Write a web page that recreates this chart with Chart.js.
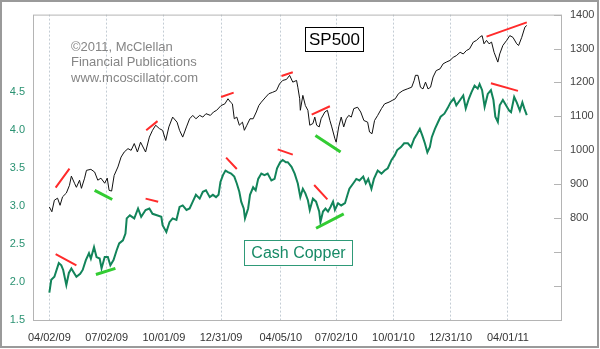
<!DOCTYPE html>
<html>
<head>
<meta charset="utf-8">
<script src="https://cdn.jsdelivr.net/npm/chart.js@4"></script>
<style>
  html, body { margin: 0; padding: 0; background: #fff; }
  #wrap { width: 600px; height: 349px; }
</style>
</head>
<body>
<div id="wrap"><canvas id="chart" width="600" height="349"></canvas></div>
<script>
// x values are calendar days counted from 04/02/09
const dateTickDays = [0, 91, 182, 273, 368, 456, 547, 638, 729];
const dateTickLabels = ['04/02/09', '07/02/09', '10/01/09', '12/31/09', '04/05/10', '07/02/10', '10/01/10', '12/31/10', '04/01/11'];

const copperTicks = [1.5, 2.0, 2.5, 3.0, 3.5, 4.0, 4.5];
const spxTicks = [500, 600, 700, 800, 900, 1000, 1100, 1200, 1300, 1400];
const spxTickLabels = ['', '', '', '800', '900', '1000', '1100', '1200', '1300', '1400'];

const spxDays = [0,4,8,13,17,21,27,32,35,40,43,48,51,56,59,66,72,77,82,88,92,95,99,103,109,114,119,125,130,135,140,145,153,159,164,169,175,180,185,190,196,203,207,212,218,223,228,233,239,244,249,256,261,266,273,279,284,288,291,294,298,302,307,310,314,319,324,329,333,337,344,349,355,361,366,371,377,382,387,393,395,398,399,403,407,411,414,419,422,425,429,432,438,442,446,449,454,456,460,464,468,472,476,480,484,490,495,500,506,509,513,517,522,528,533,540,545,550,555,562,569,576,580,582,586,590,594,598,602,606,610,615,621,626,631,637,642,647,653,658,663,668,674,679,684,688,691,695,699,703,707,713,716,721,727,732,737,743,746,751,756,759];
const spxValues = [833,819,853,859,838,863,874,897,924,903,891,912,888,918,941,944,936,912,918,903,918,882,880,926,951,980,995,1005,1000,1020,995,1024,995,1039,1059,1074,1064,1059,1029,1069,1098,1083,1059,1039,1069,1093,1103,1093,1103,1098,1108,1103,1113,1118,1132,1137,1152,1142,1137,1093,1098,1074,1083,1059,1074,1093,1093,1113,1132,1142,1157,1167,1171,1176,1196,1206,1209,1221,1201,1206,1186,1152,1118,1162,1132,1118,1074,1079,1098,1074,1069,1093,1113,1118,1088,1069,1034,1024,1069,1098,1069,1093,1103,1098,1123,1127,1113,1088,1083,1054,1049,1088,1103,1123,1137,1142,1147,1152,1167,1176,1181,1186,1206,1221,1221,1186,1181,1201,1181,1186,1216,1235,1240,1255,1260,1265,1274,1279,1289,1284,1294,1299,1319,1324,1333,1338,1314,1324,1314,1319,1289,1260,1284,1309,1324,1338,1333,1314,1309,1333,1363,1368];

const copperDays = [0,3,8,15,19,22,27,31,35,40,43,49,53,58,63,66,71,75,80,83,88,93,97,102,107,111,117,121,123,128,135,141,146,153,159,164,171,178,180,186,191,196,202,207,212,218,223,228,233,239,244,249,255,260,265,269,272,276,280,284,289,294,298,302,305,309,311,316,319,324,328,332,337,342,347,353,358,362,367,371,376,379,385,390,395,399,403,407,411,414,419,424,429,431,435,439,443,447,451,454,459,464,470,474,477,483,488,493,499,503,507,512,516,522,528,533,538,544,549,553,559,564,570,575,580,585,589,593,597,601,605,608,613,618,622,628,633,638,643,647,653,658,662,667,671,676,681,684,688,692,697,702,706,709,713,716,721,726,731,734,739,743,748,752,755,759];
const copperValues = [1.86,2.03,2.07,2.25,2.22,2.16,1.96,2.12,2.18,2.11,2.07,2.11,2.16,2.29,2.38,2.31,2.46,2.33,2.31,2.18,2.33,2.33,2.22,2.29,2.42,2.51,2.55,2.64,2.84,2.88,2.84,2.97,2.86,2.95,2.97,2.90,2.88,2.86,2.75,2.66,2.79,2.84,2.82,2.99,3.01,2.95,2.97,3.06,3.15,3.10,3.19,3.21,3.12,3.15,3.12,3.15,3.32,3.41,3.47,3.45,3.43,3.39,3.30,3.19,3.06,2.97,2.84,2.97,3.15,3.25,3.21,3.36,3.43,3.41,3.43,3.34,3.36,3.50,3.58,3.61,3.58,3.58,3.52,3.43,3.30,3.12,3.23,3.17,3.08,2.95,3.10,3.06,2.93,2.79,2.93,2.97,2.93,2.99,3.06,2.95,3.04,3.01,3.04,3.15,3.23,3.30,3.36,3.34,3.39,3.30,3.36,3.23,3.36,3.47,3.43,3.47,3.50,3.61,3.67,3.74,3.78,3.83,3.83,3.78,3.89,3.96,4.02,3.93,3.83,3.71,3.78,3.91,4.02,4.11,4.18,4.22,4.29,4.37,4.42,4.33,4.40,4.46,4.29,4.42,4.50,4.59,4.55,4.61,4.53,4.31,4.48,4.53,4.40,4.18,4.11,4.33,4.40,4.33,4.26,4.24,4.44,4.37,4.26,4.37,4.29,4.20];

// divergence marks: [startDay, startValue, endDay, endValue]
const spxRedMarks = [[10,890,32,946],[154,1059,172,1086],[273,1157,293,1170],[369,1219,387,1230],[417,1105,446,1130],[695,1335,759,1377]];
const spxGreenMarks = [[72,882,100,855],[423,1044,463,995]];
const copperRedMarks = [[10,2.37,43,2.22],[153,3.10,173,3.06],[281,3.64,298,3.49],[363,3.75,387,3.68],[421,3.28,442,3.09],[702,4.62,745,4.52]];
const copperGreenMarks = [[74,2.10,105,2.18],[424,2.71,468,2.90]];

const FONT = "'Liberation Sans', Arial, sans-serif";

function toPoints(days, values) {
    return days.map((d, i) => ({x: d, y: values[i]}));
}

function segments(marks) {
    const pts = [];
    marks.forEach(m => {
        pts.push({x: m[0], y: m[1]}, {x: m[2], y: m[3]}, {x: m[2], y: null});
    });
    return pts;
}

function markSet(marks, axis, color, width) {
    return {
        data: segments(marks),
        yAxisID: axis,
        borderColor: color,
        borderWidth: width,
        pointRadius: 0,
        spanGaps: false,
        tension: 0
    };
}

const framePlugin = {
    id: 'frame',
    afterDraw(chart) {
        const ctx = chart.ctx;
        const a = chart.chartArea;
        ctx.save();
        // plot box
        ctx.strokeStyle = '#b4b4b4';
        ctx.lineWidth = 1;
        ctx.strokeRect(a.left + 0.5, a.top + 0.5, a.right - a.left - 1, a.bottom - a.top);
        // inward ticks on the right axis
        const ys = chart.scales.y1;
        ctx.beginPath();
        ys.ticks.forEach(t => {
            const y = Math.round(ys.getPixelForValue(t.value)) + 0.5;
            ctx.moveTo(a.right - 8, y);
            ctx.lineTo(a.right, y);
        });
        ctx.stroke();

        // outer picture frame
        ctx.strokeStyle = '#9a9a9a';
        ctx.lineWidth = 2;
        ctx.strokeRect(1, 1, chart.width - 3, chart.height - 3);

        // credit text
        ctx.fillStyle = '#858585';
        ctx.font = '13px ' + FONT;
        ctx.textAlign = 'left';
        ctx.textBaseline = 'middle';
        ctx.fillText('\u00a92011, McClellan', 71, 47);
        ctx.fillText('Financial Publications', 71, 62.5);
        ctx.fillText('www.mcoscillator.com', 71, 78);

        // SP500 label box
        ctx.fillStyle = '#fff';
        ctx.fillRect(305.5, 27.5, 58, 24);
        ctx.strokeStyle = '#000';
        ctx.lineWidth = 1;
        ctx.strokeRect(305.5, 27.5, 58, 24);
        ctx.fillStyle = '#000';
        ctx.font = '17px ' + FONT;
        ctx.textAlign = 'center';
        ctx.fillText('SP500', 334.5, 40);

        // Cash Copper label box
        ctx.fillStyle = '#fff';
        ctx.fillRect(244.5, 240.5, 108, 25);
        ctx.strokeStyle = '#2f9a78';
        ctx.strokeRect(244.5, 240.5, 108, 25);
        ctx.fillStyle = '#178a66';
        ctx.font = '16px ' + FONT;
        ctx.fillText('Cash Copper', 298.5, 253.5);
        ctx.restore();
    }
};

new Chart(document.getElementById('chart'), {
    type: 'line',
    data: {
        datasets: [
            markSet(spxRedMarks, 'y1', '#ff2b2b', 2),
            markSet(copperRedMarks, 'y', '#ff2b2b', 2),
            markSet(spxGreenMarks, 'y1', '#33cc33', 3),
            markSet(copperGreenMarks, 'y', '#33cc33', 3),
            {
                label: 'SP500',
                data: toPoints(spxDays, spxValues),
                yAxisID: 'y1',
                borderColor: '#111',
                borderWidth: 1,
                pointRadius: 0,
                tension: 0
            },
            {
                label: 'Cash Copper',
                data: toPoints(copperDays, copperValues),
                yAxisID: 'y',
                borderColor: '#12845a',
                borderWidth: 2,
                pointRadius: 0,
                tension: 0
            }
        ]
    },
    options: {
        responsive: false,
        animation: false,
        devicePixelRatio: 1,
        layout: { padding: { top: 14, left: 0, right: 0, bottom: 0 } },
        plugins: {
            legend: { display: false },
            tooltip: { enabled: false }
        },
        scales: {
            x: {
                type: 'linear',
                min: -26,
                max: 815,
                afterBuildTicks: s => { s.ticks = dateTickDays.map(v => ({value: v})); },
                afterFit: s => { s.height = 29; },
                grid: { color: '#c3ccd4', lineWidth: 1, drawTicks: false },
                border: { display: false, dash: [2, 2] },
                ticks: {
                    autoSkip: false,
                    maxRotation: 0,
                    padding: 11,
                    color: '#333',
                    font: { size: 11, family: FONT },
                    callback: v => dateTickLabels[dateTickDays.indexOf(v)]
                }
            },
            y: {
                position: 'left',
                min: 1.5,
                max: 5.526,
                afterBuildTicks: s => { s.ticks = copperTicks.map(v => ({value: v})); },
                afterFit: s => { s.width = 33; },
                grid: { display: false, drawTicks: false },
                border: { display: false },
                ticks: {
                    padding: 8,
                    color: '#2a9272',
                    font: { size: 11, family: FONT },
                    callback: v => v.toFixed(1)
                }
            },
            y1: {
                position: 'right',
                min: 500,
                max: 1400,
                afterBuildTicks: s => { s.ticks = spxTicks.map(v => ({value: v})); },
                afterFit: s => { s.width = 38; },
                grid: { display: false, drawTicks: false },
                border: { display: false },
                ticks: {
                    padding: 8,
                    color: '#444',
                    font: { size: 11, family: FONT },
                    callback: v => spxTickLabels[spxTicks.indexOf(v)]
                }
            }
        }
    },
    plugins: [framePlugin]
});
</script>
</body>
</html>
